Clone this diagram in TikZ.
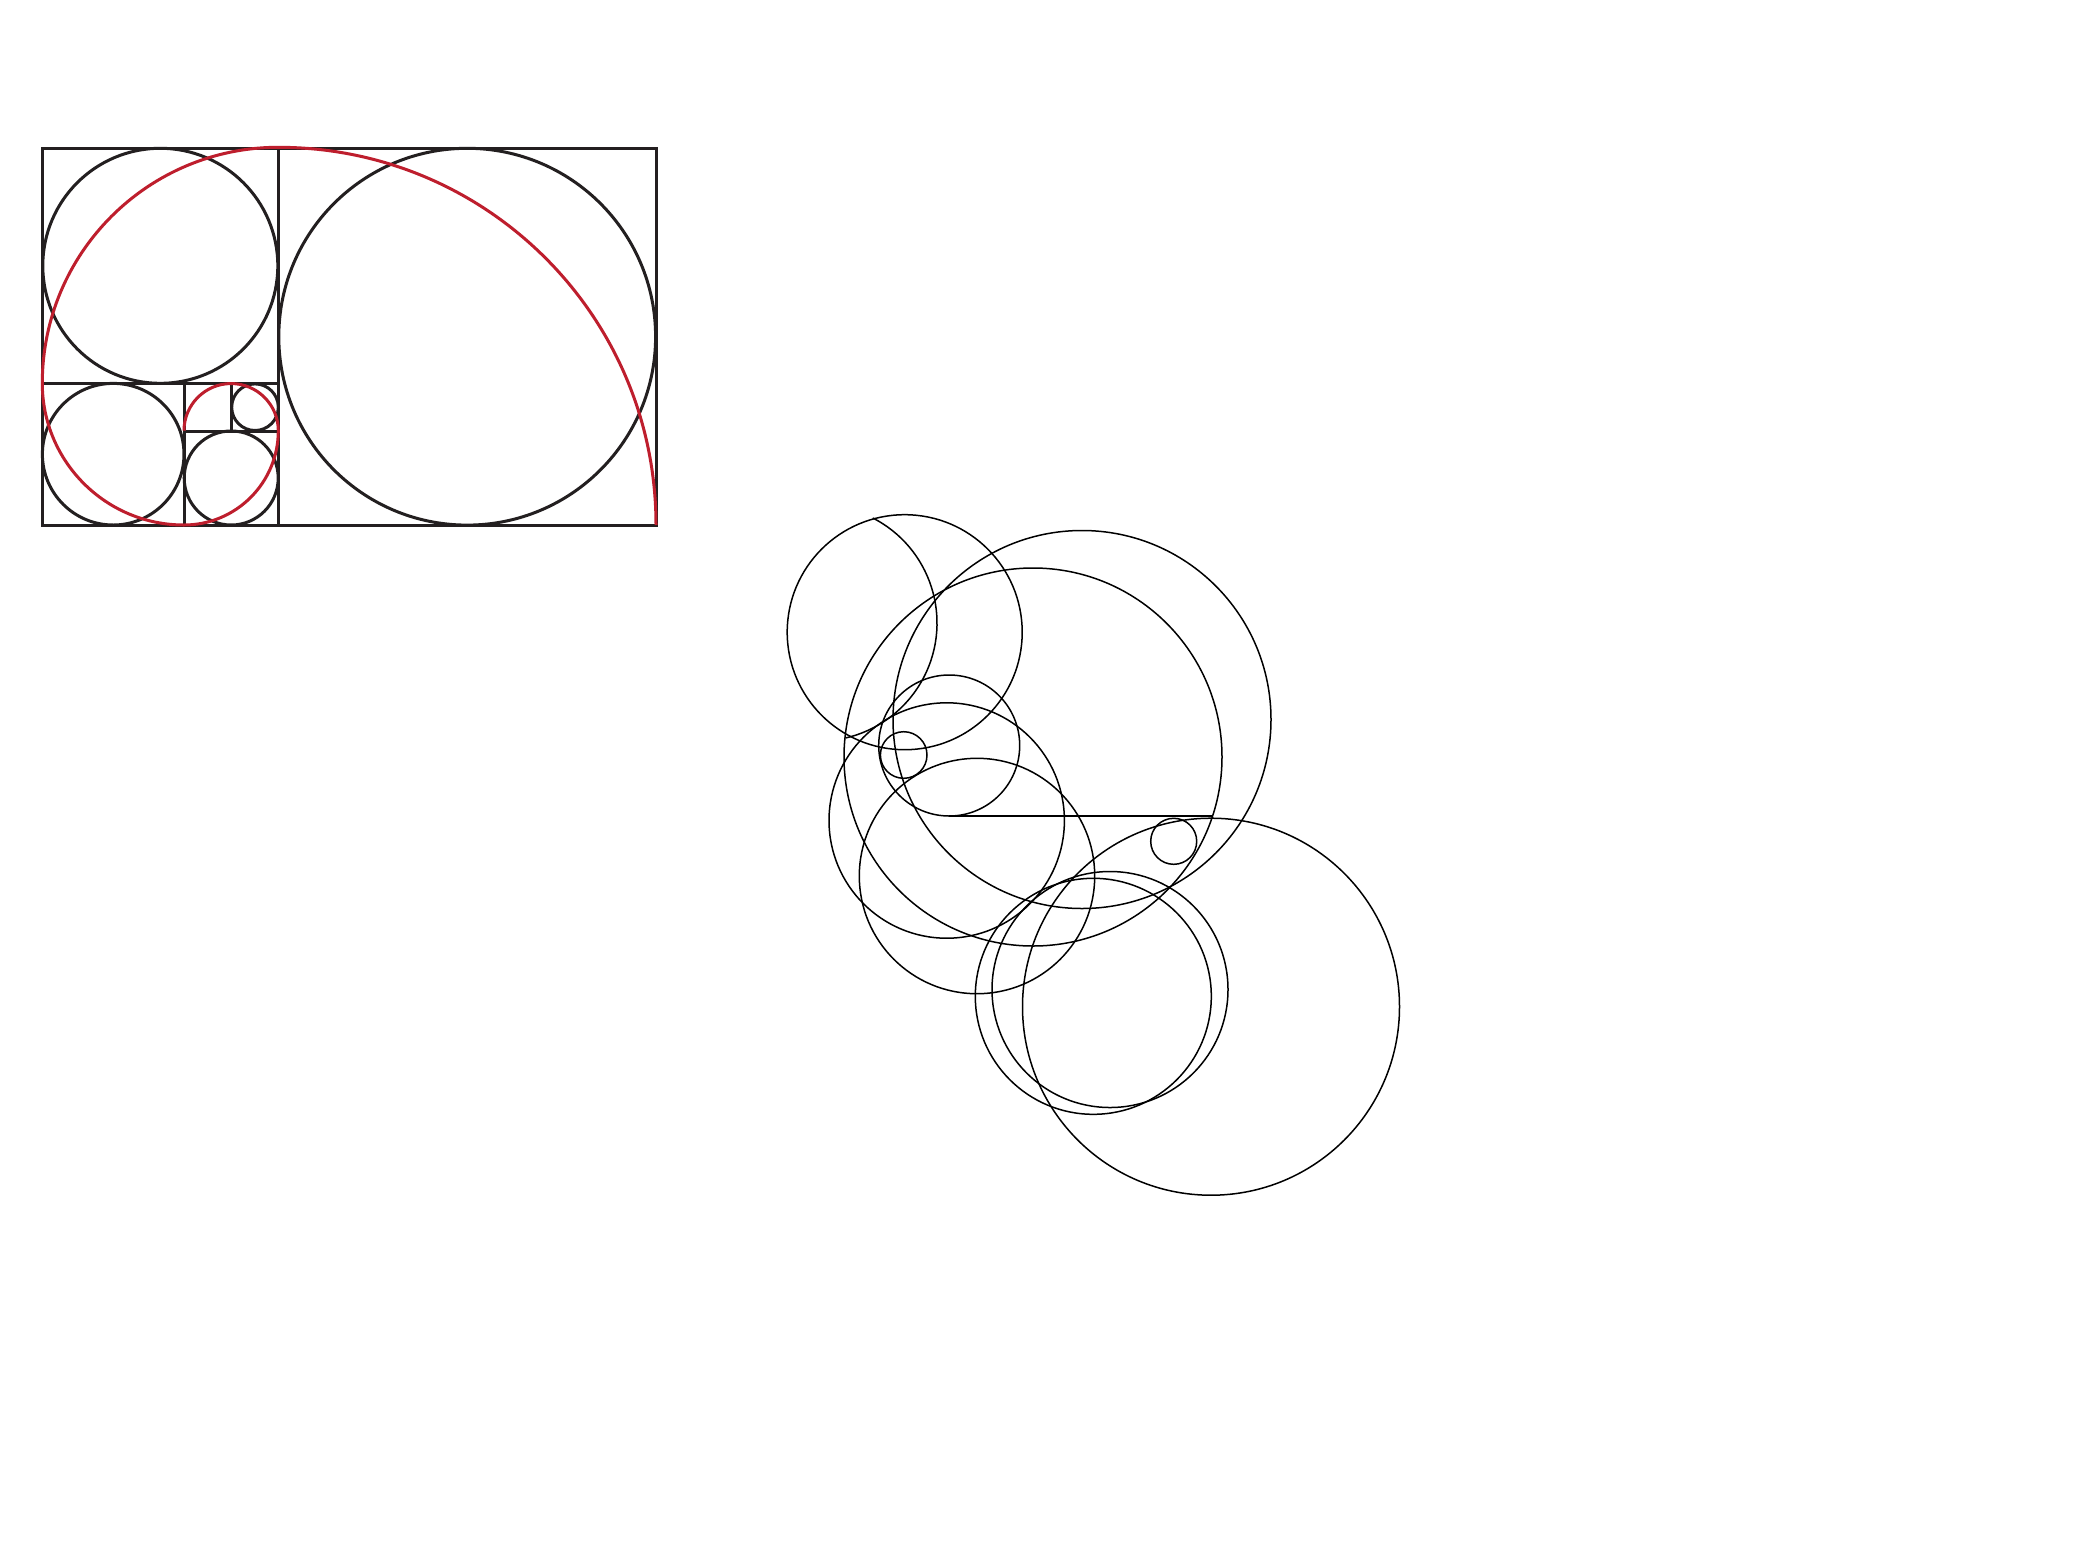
\documentclass[tikz,border=0pt]{standalone}
\definecolor{ink}{HTML}{231F20}
\definecolor{spiralred}{HTML}{BE1E2D}
\begin{document}
\begin{tikzpicture}[x=1pt,y=1pt,
  goldline/.style={draw=ink,line width=3pt},
  spiral/.style={draw=spiralred,line width=3pt},
  thinline/.style={draw=black,line width=1.5pt}]
\useasboundingbox (0,0) rectangle (2084,-1564);
\fill[white] (0,0) rectangle (2084,-1564);
% ---------- golden rectangle ----------
\draw[goldline] (42.3,-148.3) rectangle (656,-525);
\draw[goldline] (278.3,-148.3) -- (278.3,-525);
\draw[goldline] (42.3,-383.3) -- (278.3,-383.3);
\draw[goldline] (184,-383.3) -- (184,-525);
\draw[goldline] (184,-431) -- (278.3,-431);
\draw[goldline] (231.7,-383.3) -- (231.7,-431);
% circles
\draw[goldline] (160.3,-265.8) circle[radius=117.5];
\draw[goldline] (467.2,-336.7) circle[radius=188.4];
\draw[goldline] (113.2,-454.2) circle[radius=70.8];
\draw[goldline] (231.2,-478) circle[radius=47];
\draw[goldline] (255,-407.2) circle[radius=23.3];
% red spiral
\draw[spiral] (656,-525) arc[start angle=0,end angle=90,radius=377.7]
  arc[start angle=90,end angle=180,radius=236]
  arc[start angle=180,end angle=270,radius=141.7]
  arc[start angle=270,end angle=360,radius=94.3]
  arc[start angle=0,end angle=180,radius=47.15];
% ---------- circle cluster ----------
\draw[thinline] (904.7,-632.2) circle[radius=117.5];
\draw[thinline] (819,-623) ++(62.9:118) arc[start angle=62.9,end angle=-77,radius=118];
\draw[thinline] (1033,-757) circle[radius=189];
\draw[thinline] (1082,-719.5) circle[radius=189];
\draw[thinline] (949.2,-745.5) circle[radius=70.5];
\draw[thinline] (1211,-1006.7) circle[radius=188.5];
\draw[thinline] (1173.7,-841.3) circle[radius=23];
\draw[thinline] (903.7,-755) circle[radius=23.3];
\draw[thinline] (946.7,-820.5) circle[radius=117.7];
\draw[thinline] (977,-876) circle[radius=117.7];
\draw[thinline] (1110,-989.5) circle[radius=118];
\draw[thinline] (1093.3,-996.3) circle[radius=118];
\coordinate (lineA) at (949.2,-816);
\coordinate (lineB) at (1212.5,-816);
\draw[thinline] (lineA) -- (lineB);
\end{tikzpicture}
\end{document}
